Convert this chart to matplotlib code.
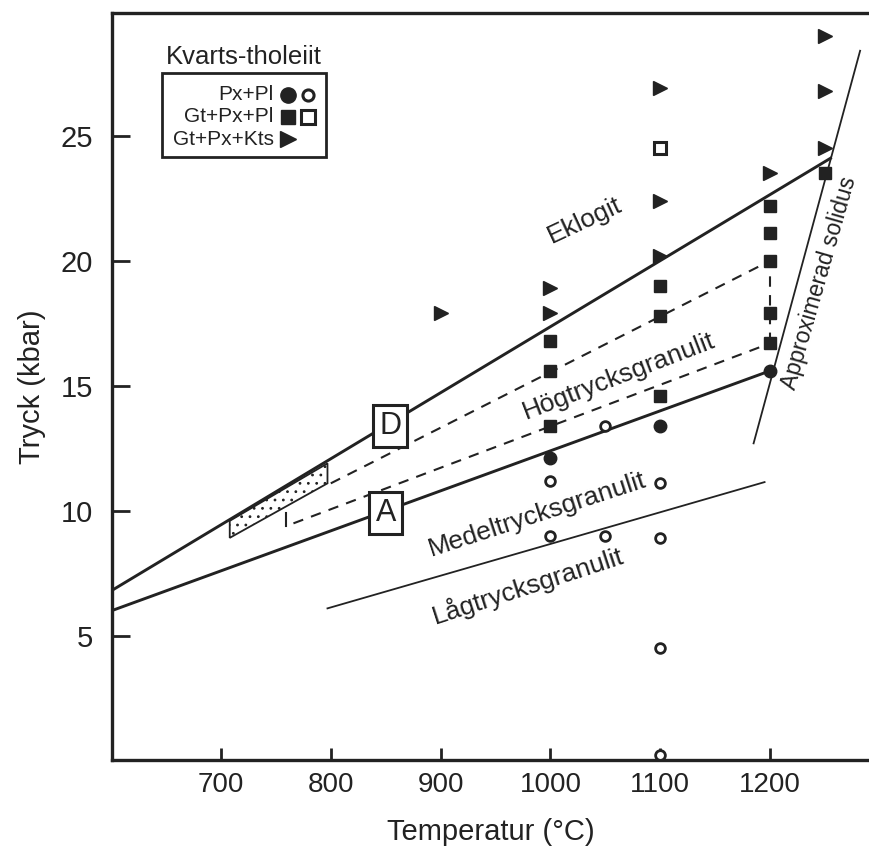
import matplotlib
matplotlib.use('Agg')
import matplotlib.pyplot as plt

plt.rcParams['font.family'] = ['Liberation Sans', 'DejaVu Sans']
plt.rcParams['hatch.linewidth'] = 0.8

INK = '#222222'

# Px+Pl, filled and open circles
pxpl_fill_T = [1000, 1100, 1200]
pxpl_fill_P = [12.1, 13.4, 15.6]
pxpl_open_T = [1000, 1000, 1050, 1050, 1100, 1100, 1100, 1100]
pxpl_open_P = [11.2, 9.0, 13.4, 9.0, 11.1, 8.9, 4.5, 0.25]

# Gt+Px+Pl, filled and open squares
gtpxpl_fill_T = [1000, 1000, 1000, 1100, 1100, 1100, 1200, 1200, 1200, 1200, 1200, 1250]
gtpxpl_fill_P = [16.8, 15.6, 13.4, 19.0, 17.8, 14.6, 22.2, 21.1, 20.0, 17.9, 16.7, 23.5]
gtpxpl_open_T = [1100]
gtpxpl_open_P = [24.5]

# Gt+Px+Kts, triangles
kts_T = [900, 1000, 1000, 1100, 1100, 1100, 1200, 1250, 1250, 1250]
kts_P = [17.9, 18.9, 17.9, 26.9, 22.4, 20.2, 23.5, 29.0, 26.8, 24.5]

# boundaries
line_D_T = [600, 1255]
line_D_P = [6.8, 24.1]
line_A_T = [600, 1200]
line_A_P = [6.0, 15.6]
dash_hi_T = [800, 1200]
dash_hi_P = [11.1, 20.0]
dash_lo_T = [766, 1200]
dash_lo_P = [9.5, 16.7]
dash_v_T = [1200, 1200]
dash_v_P = [16.7, 20.0]
tick_T = [759, 759]
tick_P = [9.4, 9.9]
medel_lag_T = [797, 1195]
medel_lag_P = [6.1, 11.15]
solidus_T = [1185, 1282]
solidus_P = [12.7, 28.4]
stipple_T = [708, 797, 797, 708]
stipple_P = [8.92, 11.1, 11.9, 9.6]

legend_labels = ['Px+Pl', 'Gt+Px+Pl', 'Gt+Px+Kts']

fig = plt.figure(figsize=(8.7, 8.5), dpi=100)
ax = fig.add_axes([0.129, 0.106, 0.871, 0.879])

ax.fill(stipple_T, stipple_P, facecolor='white', edgecolor=INK, hatch='..', lw=1.3, zorder=1)

ax.plot(line_D_T, line_D_P, color=INK, lw=2.1)
ax.plot(line_A_T, line_A_P, color=INK, lw=2.1)
ax.plot(dash_hi_T, dash_hi_P, color=INK, lw=1.5, ls=(0, (5, 4)))
ax.plot(dash_lo_T, dash_lo_P, color=INK, lw=1.5, ls=(0, (5, 4)))
ax.plot(dash_v_T, dash_v_P, color=INK, lw=1.5, ls=(0, (5, 4)))
ax.plot(tick_T, tick_P, color=INK, lw=1.5)
ax.plot(medel_lag_T, medel_lag_P, color=INK, lw=1.3)
ax.plot(solidus_T, solidus_P, color=INK, lw=1.3)

ax.plot(pxpl_fill_T, pxpl_fill_P, 'o', ms=9, color=INK, zorder=4)
ax.plot(pxpl_open_T, pxpl_open_P, 'o', ms=7, mfc='white', mec=INK, mew=2, zorder=4, clip_on=False)
ax.plot(gtpxpl_fill_T, gtpxpl_fill_P, 's', ms=8.5, color=INK, zorder=4)
ax.plot(gtpxpl_open_T, gtpxpl_open_P, 's', ms=8.5, mfc='white', mec=INK, mew=2.2, zorder=4)
ax.plot(kts_T, kts_P, '>', ms=9.5, color=INK, zorder=4)

# region labels
ax.text(1031, 21.6, 'Eklogit', rotation=25, fontsize=19, color=INK, ha='center', va='center')
ax.text(1062, 15.4, 'Högtrycksgranulit', rotation=21, fontsize=19, color=INK, ha='center', va='center')
ax.text(988, 9.85, 'Medeltrycksgranulit', rotation=18, fontsize=19, color=INK, ha='center', va='center')
ax.text(979, 7.0, 'Lågtrycksgranulit', rotation=18, fontsize=19, color=INK, ha='center', va='center')
ax.text(1245, 19.1, 'Approximerad solidus', rotation=74, fontsize=16.5, color=INK, ha='center', va='center')

box = dict(boxstyle='square,pad=0.2', fc='white', ec=INK, lw=2.2)
ax.text(854, 13.4, 'D', fontsize=22, color=INK, ha='center', va='center', bbox=box, zorder=5)
ax.text(850, 9.9, 'A', fontsize=22, color=INK, ha='center', va='center', bbox=box, zorder=5)

# legend, drawn by hand
ax.text(0.173, 0.941, 'Kvarts-tholeiit', transform=ax.transAxes, fontsize=18.5,
        color=INK, ha='center', va='center')
ax.add_patch(plt.Rectangle((0.066, 0.807), 0.216, 0.113, transform=ax.transAxes,
                           fill=False, ec=INK, lw=2))
rows_y = [0.890, 0.861, 0.831]
for lab, yy in zip(legend_labels, rows_y):
    ax.text(0.213, yy, lab, transform=ax.transAxes, fontsize=15, color=INK, ha='right', va='center')
ax.plot([0.232], [rows_y[0]], 'o', ms=11, color=INK, transform=ax.transAxes)
ax.plot([0.258], [rows_y[0]], 'o', ms=8, mfc='white', mec=INK, mew=2.2, transform=ax.transAxes)
ax.plot([0.232], [rows_y[1]], 's', ms=10, color=INK, transform=ax.transAxes)
ax.plot([0.258], [rows_y[1]], 's', ms=10, mfc='white', mec=INK, mew=2.2, transform=ax.transAxes)
ax.plot([0.232], [rows_y[2]], '>', ms=11, color=INK, transform=ax.transAxes)

ax.set_xlim(601, 1291)
ax.set_ylim(0.04, 29.92)
ax.set_xticks([700, 800, 900, 1000, 1100, 1200])
ax.set_yticks([5, 10, 15, 20, 25])
ax.tick_params(axis='x', direction='in', length=9, width=2, labelsize=20, pad=9, colors=INK)
ax.tick_params(axis='y', direction='in', length=13, width=2, labelsize=21, pad=14, colors=INK)
for s in ['left', 'bottom', 'top']:
    ax.spines[s].set_linewidth(2.4)
    ax.spines[s].set_color(INK)
ax.spines['right'].set_visible(False)

ax.set_xlabel('Temperatur (°C)', fontsize=21, color=INK, labelpad=14)
ax.set_ylabel('Tryck (kbar)', fontsize=21, color=INK, labelpad=10)

fig.savefig('out.png', dpi=100)
